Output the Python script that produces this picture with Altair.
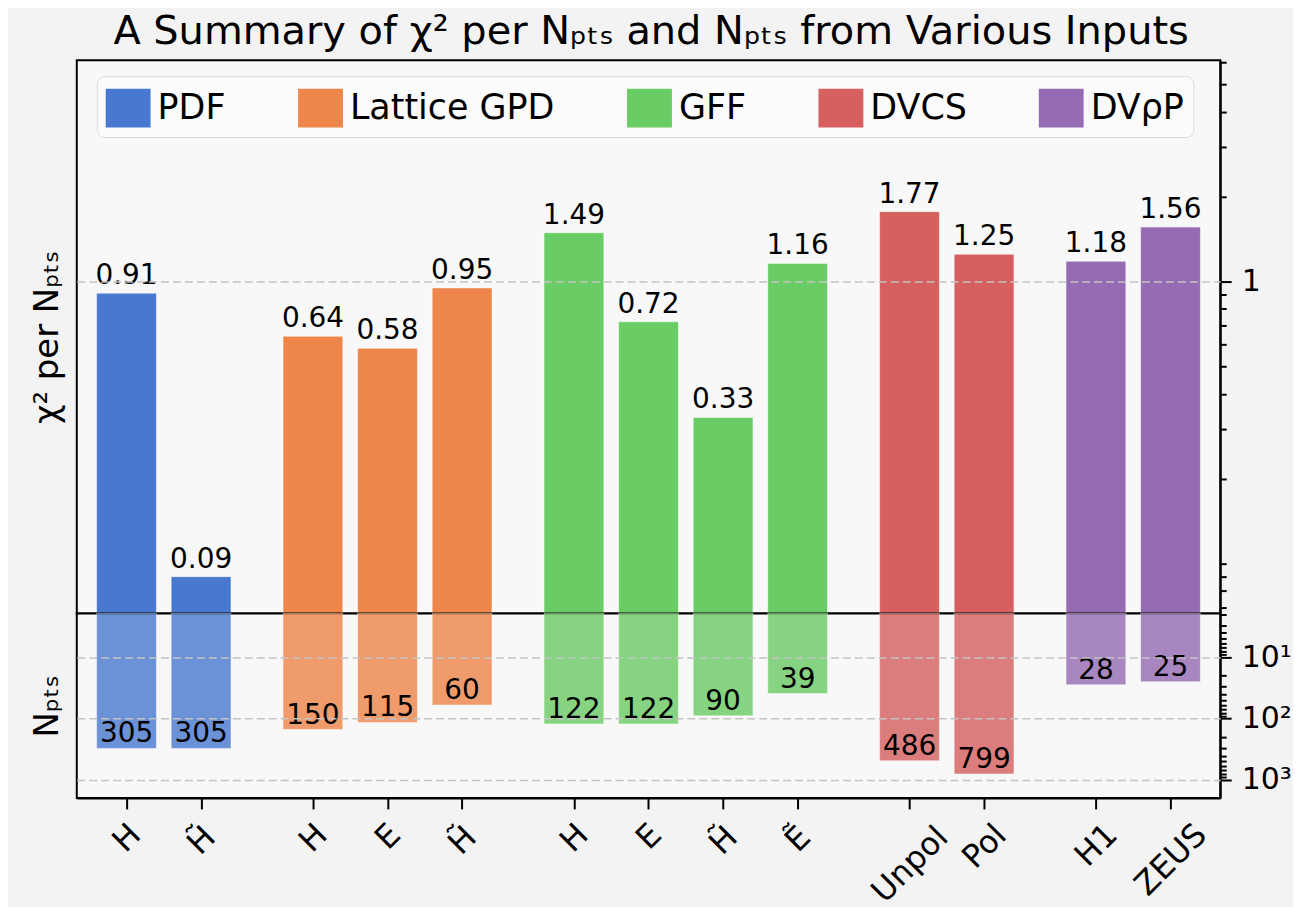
import json
import altair as alt
import pandas as pd

# ---------------- data ----------------
groups = ["PDF", "Lattice GPD", "GFF", "DVCS", "DVρP"]
colors = ["#4878d0", "#ee854a", "#6acc64", "#d65f5f", "#956cb4"]

bar_group = ["PDF", "PDF",
             "Lattice GPD", "Lattice GPD", "Lattice GPD",
             "GFF", "GFF", "GFF", "GFF",
             "DVCS", "DVCS",
             "DVρP", "DVρP"]
bar_label = ["H", "H\u0303",
             "H", "E", "H\u0303",
             "H", "E", "H\u0303", "E\u0303",
             "Unpol", "Pol",
             "H1", "ZEUS"]
chi2 = [0.91, 0.09, 0.64, 0.58, 0.95, 1.49, 0.72, 0.33, 1.16, 1.77, 1.25, 1.18, 1.56]
npts = [305, 305, 150, 115, 60, 122, 122, 90, 39, 486, 799, 28, 25]

# slot positions: one unit per bar, an extra half unit between groups
pos = []
g = -1
prev = None
for i, grp in enumerate(bar_group):
    if grp != prev:
        g += 1
        prev = grp
    pos.append(i + 0.5 * g)

df = pd.DataFrame({"pos": pos, "group": bar_group, "label": bar_label,
                   "chi2": chi2, "npts": npts})

FONT = "DejaVu Sans"
W = 1147
H_TOP = 555
H_BOT = 185

# ---------------- x axis label padding (rotated labels, bbox top aligned) ----------------
cw = {"H": 0.752, "E": 0.632, "U": 0.732, "n": 0.634, "p": 0.635, "o": 0.612,
      "l": 0.278, "P": 0.603, "1": 0.636, "Z": 0.685, "S": 0.635, "\u0303": 0.0}
XFS = 32
conds = []
for p, lab in zip(pos, bar_label):
    w = sum(cw.get(c, 0.6) for c in lab) * XFS
    h = (0.95 if ("p" in lab or "\u0303" in lab) else 0.73) * XFS
    half = (w + h) * 0.3536
    conds.append({"test": f"datum.value == {p}", "value": round(12 + half, 1)})

x_scale = alt.Scale(domain=[-0.6, 14.6], nice=False, zero=False)

x_axis_bottom = alt.Axis(
    values=pos,
    labelExpr=f"{json.dumps(bar_label, ensure_ascii=False)}[indexof({json.dumps(pos)}, datum.value)]",
    labelAngle=-45, labelAlign="center", labelBaseline="middle",
    labelPadding={"condition": conds, "value": 30},
    labelFontSize=XFS, labelFont=FONT, labelColor="black",
    labelOverlap=False, labelFlush=False, labelBound=False,
    tickSize=11, tickWidth=2, tickColor="black",
    domainColor="black", domainWidth=2, grid=False, title=None,
)

color_scale = alt.Scale(domain=groups, range=colors)

# ---------------- top panel: chi2 per Npts ----------------
top_ticks = [0.07, 0.08, 0.09] + [round(0.1 * k, 2) for k in range(1, 10)] + [1, 2, 3, 4, 5, 6]
y_top_scale = alt.Scale(type="log", domain=[0.0666, 6.09], nice=False)

top_right_axis = alt.Axis(
    orient="right", values=top_ticks, tickCount=100,
    labelExpr="datum.value == 1 ? '1' : ''",
    tickSize={"condition": {"test": "datum.value == 1", "value": 11}, "value": 6},
    tickWidth=2, tickColor="black", domainColor="black", domainWidth=2,
    labelFontSize=30, labelFont=FONT, labelColor="black", labelPadding=10,
    labelOverlap=False, labelFlush=False, grid=False, title=None,
)
top_left_axis = alt.Axis(
    orient="left", values=[1], labels=False, ticks=False, domain=False,
    grid=True, gridDash=[8, 4], gridColor="#c4c4c4", gridWidth=1.5,
    title="χ² per Nₚₜₛ", titleFontSize=34, titleFont=FONT,
    titleFontWeight="normal", titleColor="black", titlePadding=12, zindex=1,
)

x_top = alt.X("pos:Q", scale=x_scale, axis=None)

bars_top = alt.Chart(df).mark_bar(size=60, stroke="white", strokeWidth=1, strokeOpacity=0.5).encode(
    x=x_top,
    y=alt.Y("chi2:Q", scale=y_top_scale, axis=top_right_axis, stack=None),
    y2=alt.value(H_TOP),
    color=alt.Color("group:N", scale=color_scale, legend=alt.Legend(
        orient="none", legendX=20, legendY=16, direction="horizontal", title=None,
        symbolType="M-1,-0.867H1V0.867H-1Z", symbolSize=2025, symbolStrokeWidth=0,
        symbolOpacity=1, labelFontSize=35, labelFont=FONT, labelColor="black",
        labelOffset=7, labelLimit=400, columnPadding=72, padding=9,
        fillColor="#fbfbfb", strokeColor="#dadada", cornerRadius=8,
    )),
)
text_top = alt.Chart(df).mark_text(
    baseline="alphabetic", dy=-9, fontSize=28, font=FONT, color="black"
).encode(
    x=x_top,
    y=alt.Y("chi2:Q", scale=y_top_scale, axis=top_left_axis),
    text=alt.Text("chi2:Q", format=".2f"),
)
top = alt.layer(bars_top, text_top).resolve_axis(y="independent").properties(width=W, height=H_TOP)

# ---------------- bottom panel: Npts ----------------
bot_ticks = list(range(2, 10)) + list(range(10, 100, 10)) + list(range(100, 1000, 100)) + [1000]
y_bot_scale = alt.Scale(type="log", domain=[1.93, 1960], nice=False, reverse=True)
major_test = "datum.value == 10 || datum.value == 100 || datum.value == 1000"

bot_right_axis = alt.Axis(
    orient="right", values=bot_ticks, tickCount=100,
    labelExpr="datum.value == 10 ? '10¹' : datum.value == 100 ? '10²' : datum.value == 1000 ? '10³' : ''",
    tickSize={"condition": {"test": major_test, "value": 11}, "value": 6},
    tickWidth=2, tickColor="black", domainColor="black", domainWidth=2,
    labelFontSize=30, labelFont=FONT, labelColor="black", labelPadding=10,
    labelOverlap=False, labelFlush=False, grid=False, title=None,
)
bot_left_axis = alt.Axis(
    orient="left", values=[10, 100, 1000], labels=False, ticks=False, domain=False,
    grid=True, gridDash=[8, 4], gridColor="#c4c4c4", gridWidth=1.5,
    title="Nₚₜₛ", titleFontSize=34, titleFont=FONT,
    titleFontWeight="normal", titleColor="black", titlePadding=12, zindex=1,
)

x_bot = alt.X("pos:Q", scale=x_scale, axis=x_axis_bottom)

bars_bot = alt.Chart(df).mark_bar(size=60, opacity=0.8, stroke="white", strokeWidth=1, strokeOpacity=0.5).encode(
    x=x_bot,
    y=alt.Y("npts:Q", scale=y_bot_scale, axis=bot_right_axis, stack=None),
    y2=alt.value(0),
    color=alt.Color("group:N", scale=color_scale, legend=None),
)
text_bot = alt.Chart(df).mark_text(
    baseline="alphabetic", dy=-6, fontSize=28, font=FONT, color="black"
).encode(
    x=x_bot,
    y=alt.Y("npts:Q", scale=y_bot_scale, axis=bot_left_axis),
    text=alt.Text("npts:Q", format="d"),
)
bottom = alt.layer(bars_bot, text_bot).resolve_axis(y="independent").properties(width=W, height=H_BOT)

chart = alt.vconcat(top, bottom, spacing=0, bounds="flush").resolve_scale(color="independent").properties(
    title=alt.TitleParams(
        text="A Summary of χ² per Nₚₜₛ and Nₚₜₛ from Various Inputs",
        fontSize=40, font=FONT, fontWeight="normal", color="black",
        anchor="middle", offset=-6, dx=-10,
    ),
    padding={"left": 22, "top": 2, "right": 0, "bottom": 0},
    background="#f3f3f3",
).configure_view(stroke="black", strokeWidth=2, fill="#f8f8f8")

chart.save("out.html", embed_options={"renderer": "svg", "actions": False})
